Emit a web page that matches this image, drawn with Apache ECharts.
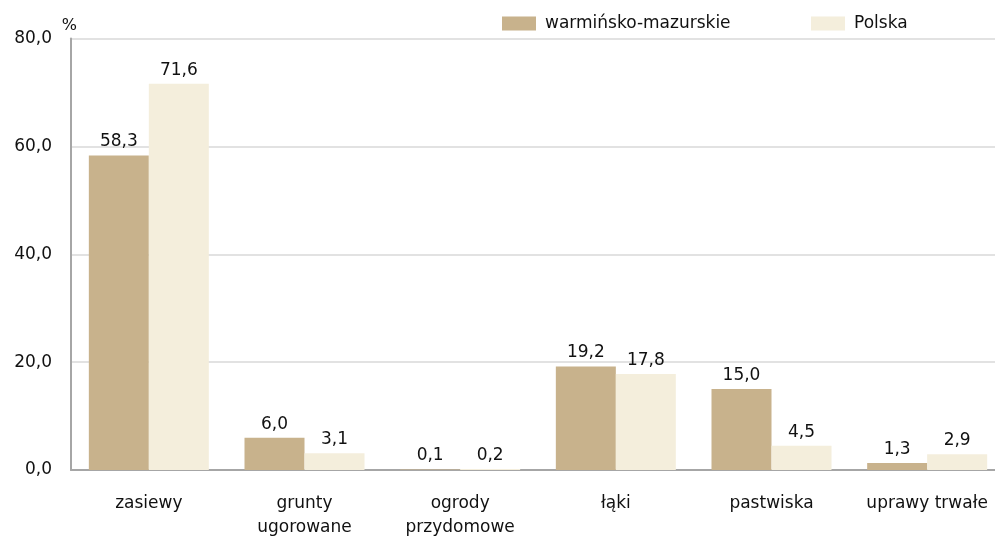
<!DOCTYPE html>
<html>
<head>
<meta charset="utf-8">
<script src="https://cdn.jsdelivr.net/npm/echarts@6/dist/echarts.min.js"></script>
<style>
  html, body { margin: 0; padding: 0; background: #fff; }
  #chart { width: 995px; height: 536px; }
</style>
</head>
<body>
<div id="chart"></div>
<script>
const categories = ['zasiewy', 'grunty\nugorowane', 'ogrody\nprzydomowe', 'łąki', 'pastwiska', 'uprawy trwałe'];
const seriesNames = ['warmińsko-mazurskie', 'Polska'];
const regionValues = [58.3, 6.0, 0.1, 19.2, 15.0, 1.3];
const polandValues = [71.6, 3.1, 0.2, 17.8, 4.5, 2.9];
const yTicks = [0, 20, 40, 60, 80];

const colors = ['#C8B28C', '#F4EEDC'];
const font = 'DejaVu Sans';
const fmt = (v) => Number(v).toFixed(1).replace('.', ',');

const chart = echarts.init(document.getElementById('chart'));

const legendBase = {
  top: 10,
  itemWidth: 34,
  itemHeight: 14,
  icon: 'rect',
  textStyle: { fontFamily: font, fontSize: 17, color: '#111', padding: [0, 0, 0, 4] },
  selectedMode: false,
};

chart.setOption({
  animation: false,
  color: colors,
  legend: [
    { ...legendBase, left: 497, data: [seriesNames[0]] },
    { ...legendBase, left: 806, data: [seriesNames[1]] },
  ],
  grid: {
    left: 71,
    top: 38.5,
    width: 934,
    height: 431.5,
    containLabel: false,
    outerBoundsMode: 'none',
  },
  xAxis: {
    type: 'category',
    data: categories,
    axisTick: { show: false },
    axisLine: { lineStyle: { color: '#A6A6A6', width: 2 } },
    axisLabel: {
      fontFamily: font,
      fontSize: 17,
      color: '#111',
      margin: 22,
      lineHeight: 24,
      interval: 0,
    },
  },
  yAxis: {
    type: 'value',
    min: yTicks[0],
    max: yTicks[yTicks.length - 1],
    interval: 20,
    name: '%',
    nameLocation: 'end',
    nameGap: 5,
    nameTextStyle: { fontFamily: font, fontSize: 16, color: '#111', align: 'right', padding: [0, -6, 0, 0] },
    axisLine: { show: true, lineStyle: { color: '#A6A6A6', width: 2 } },
    axisTick: { show: false },
    axisLabel: {
      fontFamily: font,
      fontSize: 17,
      color: '#111',
      margin: 19,
      formatter: fmt,
    },
    splitLine: { lineStyle: { color: '#D9D9D9', width: 1.5 } },
  },
  series: [regionValues, polandValues].map((data, i) => ({
    name: seriesNames[i],
    type: 'bar',
    data,
    barWidth: 60,
    barGap: '0%',
    itemStyle: { color: colors[i] },
    label: {
      show: true,
      position: 'top',
      distance: 5,
      fontFamily: font,
      fontSize: 17,
      color: '#111',
      formatter: (p) => fmt(p.value),
    },
  })),
});
</script>
</body>
</html>
